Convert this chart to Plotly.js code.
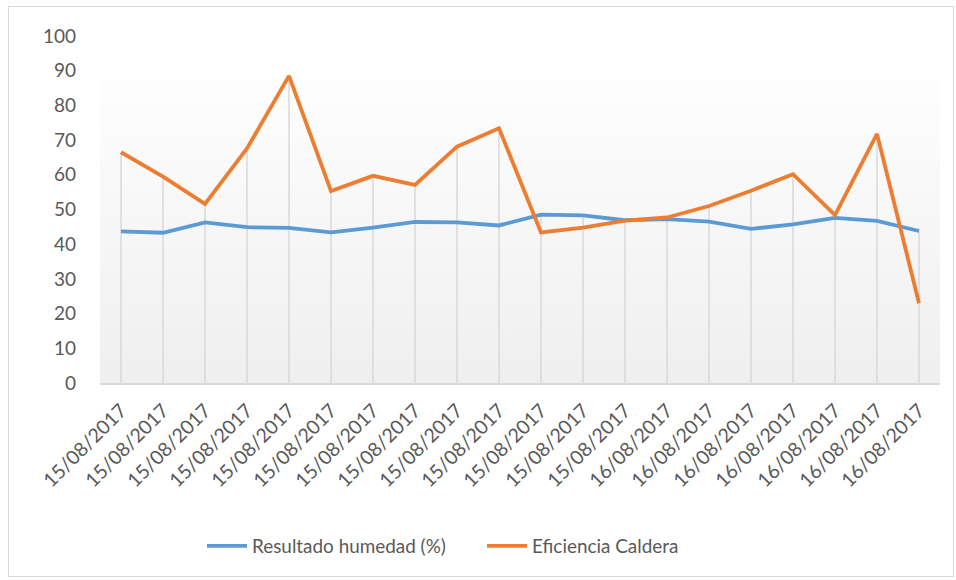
<!DOCTYPE html>
<html>
<head>
<meta charset="utf-8">
<script src="https://cdn.plot.ly/plotly-3.0.1.min.js"></script>
<style>
html,body{margin:0;padding:0;background:#fff;}
#wrap{position:relative;width:956px;height:580px;}
#chart{position:absolute;left:0;top:0;width:956px;height:580px;}
#frame{position:absolute;left:8px;top:6px;width:946px;height:571px;border:1.5px solid #d9d9d9;pointer-events:none;box-sizing:border-box;}
</style>
</head>
<body>
<div id="wrap"><div id="chart"></div><div id="frame"></div></div>
<script>
const tickLabels = [
  "15/08/2017","15/08/2017","15/08/2017","15/08/2017","15/08/2017",
  "15/08/2017","15/08/2017","15/08/2017","15/08/2017","15/08/2017",
  "15/08/2017","15/08/2017","15/08/2017","16/08/2017","16/08/2017",
  "16/08/2017","16/08/2017","16/08/2017","16/08/2017","16/08/2017"
];
const humedad = [43.7,43.3,46.3,44.9,44.7,43.4,44.8,46.4,46.3,45.4,
                 48.5,48.3,46.9,47.2,46.5,44.4,45.7,47.6,46.7,43.8];
const eficiencia = [66.5,59.5,51.6,67.6,88.5,55.3,59.7,57.1,68.1,73.4,
                    43.4,44.8,46.8,47.7,51.0,55.4,60.2,48.4,71.8,23.0];
const seriesNames = ["Resultado humedad (%)","Eficiencia Caldera"];

const idx = tickLabels.map((_, i) => i);

// drop lines from the highest point down to the axis
const dropX = [], dropY = [];
idx.forEach(i => {
  dropX.push(i, i, null);
  dropY.push(0, Math.max(humedad[i], eficiencia[i]), null);
});

const font = "Lato, 'Open Sans', sans-serif";
const txt = "#595959";

const traces = [
  {x: dropX, y: dropY, type: "scatter", mode: "lines", showlegend: false,
   hoverinfo: "skip", line: {color: "#d9d9d9", width: 1.5}},
  {x: idx, y: humedad, name: seriesNames[0], type: "scatter", mode: "lines",
   legend: "legend", line: {color: "#5b9bd5", width: 3.8}},
  {x: idx, y: eficiencia, name: seriesNames[1], type: "scatter", mode: "lines",
   legend: "legend2", line: {color: "#ed7d31", width: 3.8}}
];

const svg = '<svg xmlns="http://www.w3.org/2000/svg" width="100" height="100" preserveAspectRatio="none">' +
  '<defs><linearGradient id="g" x1="0" y1="0" x2="0" y2="1">' +
  '<stop offset="0" stop-color="#ffffff"/><stop offset="0.12" stop-color="#fefefe"/><stop offset="1" stop-color="#efefef"/>' +
  '</linearGradient></defs><rect width="100" height="100" fill="url(#g)"/></svg>';

const legendFont = {family: font, size: 18.9, color: txt};

const layout = {
  width: 956, height: 580,
  margin: {l: 100, r: 16, t: 36, b: 197},
  paper_bgcolor: "rgba(0,0,0,0)",
  plot_bgcolor: "rgba(0,0,0,0)",
  font: {family: font, color: txt, size: 18},
  showlegend: true,
  legend: {orientation: "h", x: 0.1214, xanchor: "left", y: -0.47, yanchor: "middle",
           font: legendFont, itemwidth: 40, bgcolor: "rgba(0,0,0,0)"},
  legend2: {orientation: "h", x: 0.4548, xanchor: "left", y: -0.47, yanchor: "middle",
           font: legendFont, itemwidth: 40, bgcolor: "rgba(0,0,0,0)"},
  xaxis: {
    range: [-0.5, 19.5], tickmode: "array", tickvals: idx, ticktext: tickLabels,
    tickangle: -45, showgrid: false, zeroline: false,
    showline: true, linecolor: "#d9d9d9", linewidth: 1.5,
    ticks: "", ticklabelstandoff: 7, tickfont: {family: font, size: 19.5, color: txt}
  },
  yaxis: {
    range: [0, 100], dtick: 10, tick0: 0, showgrid: false, zeroline: false,
    showline: false, ticks: "", ticklabelstandoff: 23,
    tickfont: {family: font, size: 19, color: txt}
  },
  images: [{
    source: "data:image/svg+xml;charset=utf-8," + encodeURIComponent(svg),
    xref: "paper", yref: "paper", x: 0, y: 1, sizex: 1, sizey: 1,
    sizing: "stretch", layer: "below", xanchor: "left", yanchor: "top"
  }]
};

Plotly.newPlot("chart", traces, layout, {displayModeBar: false, staticPlot: true});
</script>
</body>
</html>
